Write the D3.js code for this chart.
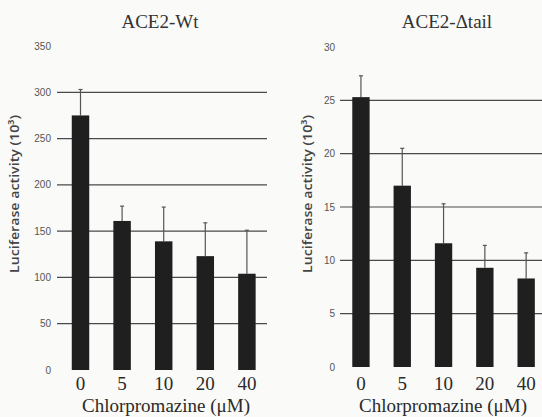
<!DOCTYPE html>
<html>
<head>
<meta charset="utf-8">
<script src="https://cdn.jsdelivr.net/npm/d3@7"></script>
<style>
  body { margin: 0; background: #fafaf8; }
  svg { display: block; }
</style>
</head>
<body>
<div id="chart"></div>
<script>
var doses = ["0", "5", "10", "20", "40"];

// ACE2-Wt, luciferase activity (10^3)
var wtMeans = [275, 161, 139, 123, 104];
var wtErrTop = [303, 177, 176, 159, 151];
var wtTicks = [0, 50, 100, 150, 200, 250, 300, 350];

// ACE2-delta tail
var tailMeans = [25.3, 17.0, 11.6, 9.3, 8.3];
var tailErrTop = [27.3, 20.5, 15.3, 11.4, 10.7];
var tailTicks = [0, 5, 10, 15, 20, 25, 30];

var w = 542;
var h = 417;

var svg = d3.select("#chart")
  .append("svg")
  .attr("width", w)
  .attr("height", h);

//draw one panel
function panel(opt) {
  var g = svg.append("g");

  var x = d3.scaleBand()
    .domain(doses)
    .range([opt.x0, opt.x1])
    .paddingInner(0.58)
    .paddingOuter(0.29);

  var y = d3.scaleLinear()
    .domain([0, opt.max])
    .range([opt.yBottom, opt.yTop]);

  // gridlines, skipping 0 and the top
  g.selectAll("line.grid")
    .data(opt.ticks.filter(function(t){ return t > 0 && t < opt.max; }))
    .enter()
    .append("line")
    .attr("class", "grid")
    .attr("x1", opt.gridStart)
    .attr("x2", opt.gridEnd)
    .attr("y1", function(d){ return y(d); })
    .attr("y2", function(d){ return y(d); })
    .attr("stroke", "#4a4a4a")
    .attr("stroke-width", 1.2);

  // y tick labels
  g.selectAll("text.ytick")
    .data(opt.ticks)
    .enter()
    .append("text")
    .attr("class", "ytick")
    .attr("x", opt.labelRight)
    .attr("y", function(d){ return y(d); })
    .attr("dy", "0.35em")
    .attr("text-anchor", "end")
    .style("font-family", "Liberation Sans Narrow, Liberation Sans, sans-serif")
    .style("font-size", "10px")
    .style("fill", "#555")
    .text(function(d){ return d; });

  // error bars
  var err = g.selectAll("g.err")
    .data(doses)
    .enter()
    .append("g")
    .attr("class", "err");

  err.append("line")
    .attr("x1", function(d){ return x(d) + x.bandwidth() / 2; })
    .attr("x2", function(d){ return x(d) + x.bandwidth() / 2; })
    .attr("y1", function(d, i){ return y(opt.means[i]); })
    .attr("y2", function(d, i){ return y(opt.errTop[i]); })
    .attr("stroke", "#555")
    .attr("stroke-width", 1.2);

  err.append("line")
    .attr("x1", function(d){ return x(d) + x.bandwidth() / 2 - 2; })
    .attr("x2", function(d){ return x(d) + x.bandwidth() / 2 + 2; })
    .attr("y1", function(d, i){ return y(opt.errTop[i]); })
    .attr("y2", function(d, i){ return y(opt.errTop[i]); })
    .attr("stroke", "#555")
    .attr("stroke-width", 1.2);

  // bars
  g.selectAll("rect")
    .data(opt.means)
    .enter()
    .append("rect")
    .attr("x", function(d, i){ return x(doses[i]); })
    .attr("width", x.bandwidth())
    .attr("y", function(d){ return y(d); })
    .attr("height", function(d){ return y(0) - y(d); })
    .attr("fill", "#1f1f1f");

  // x tick labels
  g.selectAll("text.xtick")
    .data(doses)
    .enter()
    .append("text")
    .attr("class", "xtick")
    .attr("x", function(d){ return x(d) + x.bandwidth() / 2; })
    .attr("y", 390)
    .attr("text-anchor", "middle")
    .style("font-family", "Liberation Serif, serif")
    .style("font-size", "19px")
    .style("fill", "#2a2a2a")
    .text(function(d){ return d; });

  // x axis title
  g.append("text")
    .attr("x", opt.xLabelX)
    .attr("y", 412)
    .attr("text-anchor", "middle")
    .style("font-family", "Liberation Serif, serif")
    .style("font-size", "19px")
    .style("fill", "#2a2a2a")
    .text("Chlorpromazine (\u03bcM)");

  // y axis title
  g.append("text")
    .attr("transform", "translate(" + opt.yLabelX + ",194) rotate(-90)")
    .attr("text-anchor", "middle")
    .attr("dy", "0.35em")
    .attr("textLength", 158)
    .attr("lengthAdjust", "spacingAndGlyphs")
    .style("font-family", "Open Sans, sans-serif")
    .style("font-size", "13px")
    .style("font-weight", "600")
    .style("fill", "#444")
    .text("Luciferase activity (10\u00b3)");

  // panel title
  g.append("text")
    .attr("x", opt.titleX)
    .attr("y", 28)
    .attr("text-anchor", "middle")
    .style("font-family", "Liberation Serif, serif")
    .style("font-size", "19px")
    .style("fill", "#333")
    .text(opt.title);
}

panel({
  title: "ACE2-Wt",
  means: wtMeans,
  errTop: wtErrTop,
  ticks: wtTicks,
  max: 350,
  x0: 59.7, x1: 267.7,
  yBottom: 370, yTop: 46,
  gridStart: 57, gridEnd: 267,
  labelRight: 51,
  xLabelX: 166,
  yLabelX: 14,
  titleX: 160
});

panel({
  title: "ACE2-\u0394tail",
  means: tailMeans,
  errTop: tailErrTop,
  ticks: tailTicks,
  max: 30,
  x0: 340.3, x1: 546.8,
  yBottom: 367, yTop: 47,
  gridStart: 340, gridEnd: 542,
  labelRight: 335,
  xLabelX: 443,
  yLabelX: 307,
  titleX: 447
});
</script>
</body>
</html>
